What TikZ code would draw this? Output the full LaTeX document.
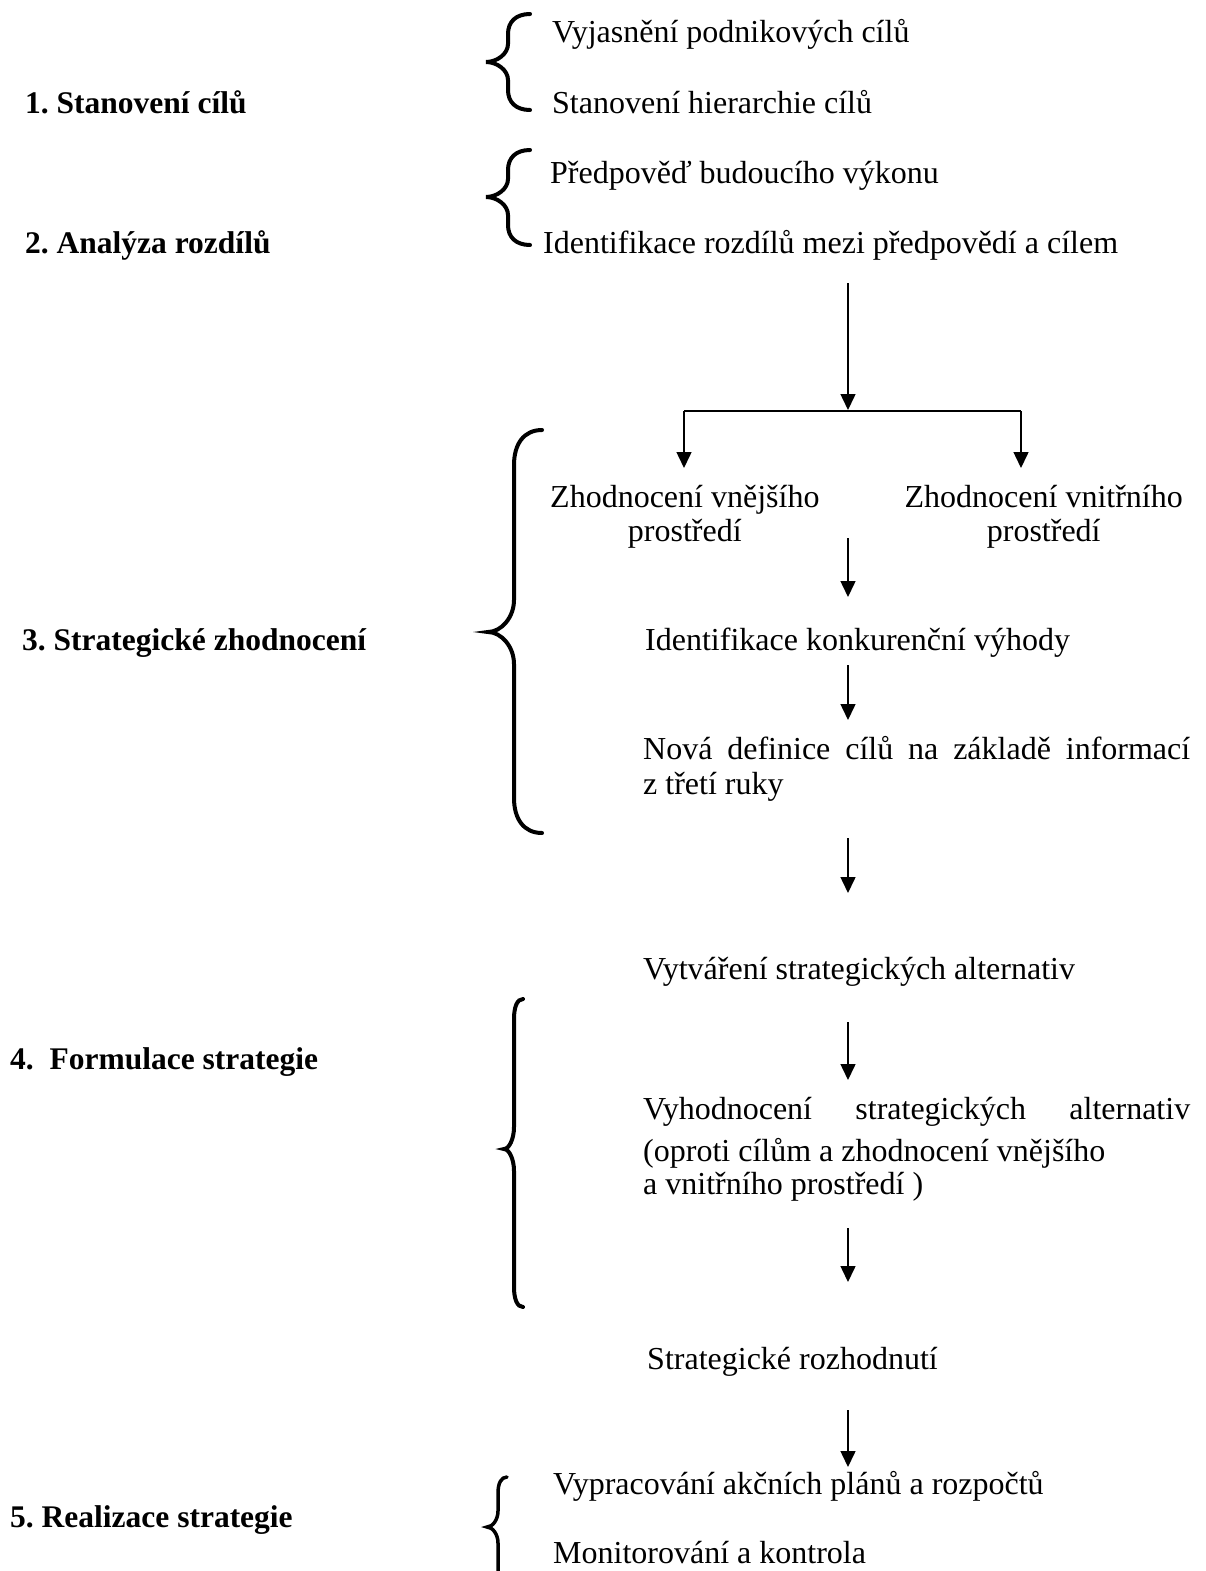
\documentclass[tikz,border=0pt]{standalone}
\usepackage{fontspec}
\setmainfont{Liberation Serif}
\usetikzlibrary{arrows.meta,calc}
\frenchspacing

% curly brace: end x, spine x, tip x, top y, tip y, bottom y, end radius, tip radius
\newcommand\curlybrace[8]{%
  (#1,#4) .. controls ({#2+0.35*(#1-#2)},#4) and (#2,{#4+0.4*#7}) .. (#2,{#4+#7})
  -- (#2,{#5-#8}) .. controls (#2,{#5-0.45*#8}) and ({#3+0.5*(#2-#3)},#5) .. (#3,#5)
  .. controls ({#3+0.5*(#2-#3)},#5) and (#2,{#5+0.45*#8}) .. (#2,{#5+#8})
  -- (#2,{#6-#7}) .. controls (#2,{#6-0.4*#7}) and ({#2+0.35*(#1-#2)},#6) .. (#1,#6)}

\begin{document}
\begin{tikzpicture}[x=1pt,y=-1pt,
  txt/.style={inner sep=0pt,anchor=base west,font=\fontsize{32}{37}\selectfont},
  ctxt/.style={inner sep=0pt,anchor=base,font=\fontsize{32}{37}\selectfont},
  lbl/.style={inner sep=0pt,anchor=base west,font=\fontsize{31.5}{37}\selectfont\bfseries},
  flow/.style={line width=1.5pt,-{Triangle[length=16pt,width=15pt]}},
  brace/.style={line width=4pt,line cap=round}]
\useasboundingbox (0,0) rectangle (1206,1571);
\clip (0,0) rectangle (1206,1571);
\fill[white] (0,0) rectangle (1206,1571);

% stage labels
\node[lbl] (s1) at (25,113) {1. Stanovení cílů};
\node[lbl] (s2) at (25,253) {2. Analýza rozdílů};
\node[lbl] (s3) at (22,650) {3. Strategické zhodnocení};
\node[lbl] (s4) at (10,1069) {4.~ Formulace strategie};
\node[lbl] (s5) at (10,1527) {5. Realizace strategie};

% stage 1 and 2 items
\node[txt] (r1) at (552,43) {Vyjasnění podnikových cílů};
\node[txt] (r2) at (552,113) {Stanovení hierarchie cílů};
\node[txt] (r3) at (550,183) {Předpověď budoucího výkonu};
\node[txt] (r4) at (543,253) {Identifikace rozdílů mezi předpovědí a cílem};

% stage 3
\node[txt] (ev) at (550,507) {Zhodnocení vnějšího};
\node[ctxt] (evb) at ($(ev.base)+(0,34)$) {prostředí};
\node[txt,anchor=base east] (iv) at (1183,507) {Zhodnocení vnitřního};
\node[ctxt] (ivb) at ($(iv.base)+(0,34)$) {prostředí};
\node[txt] (ik) at (645,650) {Identifikace konkurenční výhody};
\node[txt] (nd) at (643,759) {\makebox[547pt][s]{Nová definice cílů na základě informací}};
\node[txt] (ndb) at (643,794) {z třetí ruky};

% stage 4
\node[txt] (vt) at (643,979) {Vytváření strategických alternativ};
\node[txt] (vh) at (643,1119) {\makebox[547pt][s]{Vyhodnocení strategických alternativ}};
\node[txt] (vhb) at (643,1161) {(oproti cílům a zhodnocení vnějšího};
\node[txt] (vhc) at (643,1194) {a vnitřního prostředí )};
\node[txt] (sr) at (647,1369) {Strategické rozhodnutí};

% stage 5
\node[txt] (vp) at (553,1494) {Vypracování akčních plánů a rozpočtů};
\node[txt] (mk) at (553,1563) {Monitorování a kontrola};

% connector end points
\coordinate (a1s) at (848,283);  \coordinate (a1e) at (848,410);
\coordinate (bl) at (684,411);   \coordinate (br) at (1021,411);
\coordinate (ble) at (684,468);  \coordinate (bre) at (1021,468);
\coordinate (a2s) at (848,538);  \coordinate (a2e) at (848,597);
\coordinate (a3s) at (848,665);  \coordinate (a3e) at (848,720);
\coordinate (a4s) at (848,838);  \coordinate (a4e) at (848,893);
\coordinate (a5s) at (848,1022); \coordinate (a5e) at (848,1080);
\coordinate (a6s) at (848,1228); \coordinate (a6e) at (848,1282);
\coordinate (a7s) at (848,1410); \coordinate (a7e) at (848,1467);

\draw[flow] (a1s) -- (a1e);
\draw[line width=1.5pt] (bl) -- (br);
\draw[flow] (bl) -- (ble);
\draw[flow] (br) -- (bre);
\draw[flow] (a2s) -- (a2e);
\draw[flow] (a3s) -- (a3e);
\draw[flow] (a4s) -- (a4e);
\draw[flow] (a5s) -- (a5e);
\draw[flow] (a6s) -- (a6e);
\draw[flow] (a7s) -- (a7e);

% braces
\draw[brace] \curlybrace{530}{508}{486}{14}{62}{110}{20}{18};
\draw[brace] \curlybrace{530}{508}{486}{150}{197}{245}{20}{18};
\draw[brace] \curlybrace{542}{514}{488}{430}{632}{833}{35}{32};
\draw[brace] \curlybrace{523}{514}{504}{999}{1149}{1307}{20}{22};
\draw[brace,line width=3.5pt] \curlybrace{507}{498}{487}{1477}{1527}{1600}{16}{16};
\end{tikzpicture}
\end{document}
